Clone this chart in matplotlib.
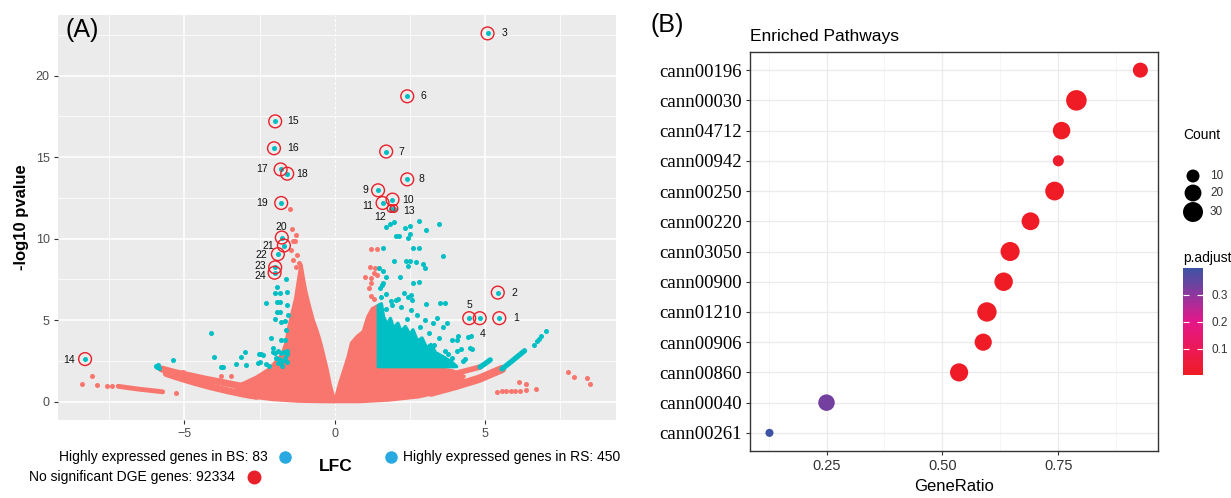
import numpy as np
import matplotlib.pyplot as plt
from matplotlib.colors import LinearSegmentedColormap, Normalize
from matplotlib.cm import ScalarMappable
from matplotlib.ticker import MultipleLocator

plt.rcParams["font.family"] = ["Liberation Sans", "DejaVu Sans"]

W, H = 1231, 498

# ---------------- panel A: volcano plot ----------------
gene_id = list(range(1, 25))
gene_lfc = [5.47, 5.42, 5.08, 4.82, 4.47, 2.41, 1.71, 2.41, 1.44, 1.92, 1.59, 1.87,
            1.97, -8.30, -1.98, -2.02, -1.80, -1.58, -1.78, -1.76, -1.69, -1.89, -1.98, -2.00]
gene_logp = [5.12, 6.69, 22.6, 5.12, 5.12, 18.74, 15.35, 13.64, 12.97, 12.4, 12.19, 11.85,
             11.85, 2.61, 17.2, 15.55, 14.25, 13.99, 12.19, 10.07, 9.58, 9.05, 8.24, 7.91]

# highly expressed in BS (left, cyan)
bs_points = [(-4.11, 4.24), (-5.37, 2.53), (-4.0, 2.72), (-3.78, 2.15), (-3.72, 2.12),
             (-5.94, 2.2), (-5.9, 2.12), (-5.84, 2.08), (-5.88, 2.25), (-3.28, 2.33),
             (-3.11, 2.73), (-3.0, 3.06), (-2.94, 2.26), (-2.52, 2.95), (-2.44, 2.9),
             (-2.37, 2.86), (-2.55, 2.34), (-2.49, 2.4), (-2.3, 6.03), (-2.28, 2.3),
             (-2.17, 2.2), (-2.12, 3.89), (-2.06, 3.27), (-2.06, 3.07), (-1.92, 7.05),
             (-1.97, 6.65), (-1.83, 6.65), (-1.92, 6.14), (-1.83, 6.14), (-1.92, 5.52),
             (-1.83, 5.52), (-1.97, 5.06), (-1.8, 4.9), (-1.67, 4.92), (-1.61, 7.5),
             (-1.59, 6.7), (-1.59, 5.9), (-1.56, 5.3), (-1.8, 3.8), (-1.67, 3.75),
             (-1.61, 4.4), (-2.0, 3.0), (-1.9, 3.1), (-1.8, 3.0), (-1.7, 3.05),
             (-1.6, 3.1), (-1.95, 2.7), (-1.85, 2.6), (-1.75, 2.5), (-1.65, 2.65),
             (-1.9, 2.35), (-1.75, 2.2), (-1.6, 2.4), (-1.6, 2.9)]

# highly expressed in RS (right, cyan)
rs_points = [(1.72, 10.72), (1.83, 10.9), (1.97, 11.03), (2.33, 10.67), (2.5, 10.77),
             (2.81, 11.08), (3.03, 10.52), (3.48, 10.92), (2.05, 10.15), (2.15, 10.15),
             (2.44, 10.07), (2.5, 10.3), (1.59, 9.4), (2.61, 9.43), (2.8, 9.43),
             (3.59, 8.93), (1.97, 8.62), (2.37, 8.6), (2.5, 8.6), (2.7, 8.55),
             (2.92, 8.45), (2.45, 8.3), (3.0, 8.2), (1.48, 8.2), (1.62, 8.0),
             (1.7, 7.65), (1.62, 7.3), (1.5, 7.0), (1.58, 7.15), (2.17, 7.67),
             (2.59, 7.31), (2.8, 7.35), (1.55, 6.4), (1.72, 6.6), (1.88, 6.2),
             (2.03, 6.25), (2.1, 6.3), (2.3, 6.65), (2.42, 6.45), (2.52, 6.55),
             (2.58, 6.25), (3.03, 6.0), (3.67, 6.04), (3.5, 6.03), (3.41, 5.12),
             (3.72, 4.81), (3.0, 5.0), (3.25, 4.85), (3.6, 4.55), (2.75, 5.3),
             (2.55, 5.6), (2.2, 5.8), (1.9, 5.9), (3.89, 3.8), (4.06, 3.8),
             (4.11, 4.0), (4.44, 3.97), (4.52, 4.0), (4.06, 3.1), (4.2, 3.25),
             (4.5, 3.3), (4.56, 3.2), (3.67, 3.1), (3.78, 2.9), (4.28, 2.5),
             (4.33, 2.6), (3.9, 2.7), (6.64, 3.49), (6.72, 3.7), (6.8, 3.85),
             (6.86, 4.05), (7.02, 4.34), (2.85, 4.6), (3.15, 4.2), (2.4, 5.1),
             (1.7, 5.7), (3.45, 3.9), (3.3, 3.45)]

# scattered non-significant genes
ns_points = [(-1.48, 11.85), (-1.42, 10.6), (-1.28, 10.2), (-1.33, 9.87), (-1.39, 9.87),
             (-1.45, 9.3), (-1.39, 8.68), (-1.28, 8.28), (-1.2, 8.5), (-1.25, 9.0),
             (-8.39, 1.1), (-8.08, 1.6), (-7.89, 0.99), (-7.56, 0.94), (-7.39, 0.94),
             (-5.28, 0.55), (-5.06, 1.83), (-4.66, 1.6), (-3.78, 1.6), (-3.46, 1.59),
             (1.39, 9.34), (1.22, 9.34), (1.17, 8.27), (1.0, 7.65), (1.22, 7.6),
             (1.22, 7.3), (1.15, 6.95), (1.35, 8.2), (1.3, 7.9), (1.4, 7.8),
             (1.2, 6.5), (1.3, 6.3), (5.39, 0.59), (5.55, 0.62), (5.7, 0.64),
             (5.85, 0.64), (6.0, 0.66), (6.15, 0.66), (6.37, 0.7), (6.7, 0.8),
             (6.14, 1.18), (6.36, 1.08), (7.76, 1.79), (7.94, 1.5), (8.37, 1.42),
             (8.5, 1.11)]

# outlines of the dense clouds (tens of thousands of genes)
ns_left_lfc = [0.0, -0.15, -0.26, -0.39, -0.5, -0.62, -0.72, -0.85, -0.97, -1.05, -1.12,
               -1.2, -1.3, -1.42, -1.52, -1.62, -1.75, -2.17, -2.6, -3.17, -3.3, -2.94,
               -2.06, -1.2, -0.4]
ns_left_logp = [0.0, 1.0, 2.0, 3.0, 3.8, 4.5, 5.0, 5.9, 6.8, 7.6, 8.4, 7.5, 6.3, 5.4, 4.6,
                3.6, 2.9, 2.0, 1.5, 1.0, 0.7, 0.33, 0.13, 0.03, 0.0]
ns_right_lfc = [0.0, 0.17, 0.32, 0.45, 0.56, 0.75, 0.95, 1.1, 1.25, 1.45, 1.45, 2.5, 3.3,
                3.9, 4.3, 4.1, 3.5, 2.8, 1.8, 0.8]
ns_right_logp = [0.0, 1.14, 2.0, 2.77, 3.6, 4.0, 4.3, 5.2, 5.7, 5.9, 2.15, 2.12, 2.05, 1.9,
                 1.55, 1.1, 0.6, 0.3, 0.1, 0.0]
rs_block_lfc = [1.45, 1.45, 1.55, 1.62, 1.75, 1.85, 1.95, 2.1, 2.2, 2.35, 2.5, 2.6, 2.75,
                2.9, 3.05, 3.2, 3.35, 3.6, 3.9, 4.05]
rs_block_logp = [2.15, 5.9, 6.0, 5.2, 4.7, 5.1, 4.5, 4.8, 4.3, 4.6, 4.1, 4.4, 3.7, 3.9,
                 3.3, 3.5, 3.0, 2.75, 2.4, 2.15]

# curved tails of points
tail_left_a = ([-5.75, -5.3, -4.8, -4.3, -3.8, -3.2, -2.6], [2.0, 1.78, 1.58, 1.38, 1.2, 0.98, 0.8])
tail_left_b = ([-5.6, -5.1, -4.6, -4.1, -3.6, -3.1, -2.6], [1.72, 1.42, 1.15, 0.9, 0.68, 0.48, 0.32])
tail_left_c = ([-7.2, -6.9, -6.54, -6.1, -5.72], [0.94, 0.86, 0.77, 0.68, 0.6])
tail_right_a = ([3.2, 4.0, 4.83], [1.35, 1.72, 2.12])
tail_right_a_rs = ([4.83, 5.0, 5.17], [2.12, 2.33, 2.56])
tail_right_b = ([3.2, 4.0, 4.8, 5.56], [0.55, 0.95, 1.4, 2.0])
tail_right_b_rs = ([5.56, 5.9, 6.31], [2.0, 2.5, 3.12])

# ---------------- panel B: enrichment dot plot ----------------
pathways = ["cann00196", "cann00030", "cann04712", "cann00942", "cann00250", "cann00220",
            "cann03050", "cann00900", "cann01210", "cann00906", "cann00860", "cann00040",
            "cann00261"]
gene_ratio = [0.927, 0.789, 0.757, 0.750, 0.742, 0.690, 0.646, 0.632, 0.596, 0.588, 0.536,
              0.250, 0.127]
counts = [15, 32, 22, 6, 26, 23, 27, 25, 28, 21, 24, 19, 1]
p_adjust = [0.01, 0.005, 0.008, 0.02, 0.006, 0.01, 0.006, 0.008, 0.006, 0.01, 0.012, 0.33, 0.40]

SALMON = "#F8766D"
CYAN = "#00BFC4"
RED = "#E8202A"

fig = plt.figure(figsize=(W / 100, H / 100), dpi=100)


def box(l, t, r, b):
    return [l / W, 1 - b / H, (r - l) / W, (b - t) / H]


ax = fig.add_axes(box(58, 15, 616, 420))
ax.set_facecolor("#EBEBEB")
ax.set_xlim(-9.2, 9.35)
ax.set_ylim(-1.13, 23.73)
for s in ax.spines.values():
    s.set_visible(False)
ax.set_xticks([-5, 0, 5])
ax.set_yticks([0, 5, 10, 15, 20])
ax.xaxis.set_minor_locator(MultipleLocator(2.5))
ax.yaxis.set_minor_locator(MultipleLocator(2.5))
ax.grid(which="major", color="white", lw=1.1)
ax.grid(which="minor", color="white", lw=0.55)
ax.xaxis.get_major_ticks()[1].gridline.set_linestyle((0, (3, 2)))
ax.xaxis.get_major_ticks()[1].gridline.set_linewidth(0.7)
ax.set_axisbelow(True)
ax.tick_params(which="major", length=3, color="#333333", labelcolor="#4D4D4D",
               labelsize=9, pad=3)
ax.tick_params(which="minor", length=0)

ax.fill(ns_left_lfc, ns_left_logp, color=SALMON, ec=SALMON, lw=2.5, joinstyle="round", zorder=2)
ax.fill(ns_right_lfc, ns_right_logp, color=SALMON, ec=SALMON, lw=2.5, joinstyle="round", zorder=2)
for tail, lw in [(tail_left_a, 5), (tail_left_b, 5), (tail_left_c, 3.5),
                 (tail_right_a, 4), (tail_right_b, 6)]:
    ax.plot(*tail, color=SALMON, lw=lw, solid_capstyle="round", zorder=2)
for tail in [tail_right_a_rs, tail_right_b_rs]:
    ax.plot(*tail, color=CYAN, lw=3.8, solid_capstyle="round", zorder=3)
ax.fill(rs_block_lfc, rs_block_logp, color=CYAN, ec=CYAN, lw=2.5, joinstyle="round", zorder=3)

ns = np.array(ns_points).T
ax.scatter(ns[0], ns[1], s=13, color=SALMON, lw=0, zorder=3)
for pts in (bs_points, rs_points):
    arr = np.array(pts).T
    ax.scatter(arr[0], arr[1], s=13, color=CYAN, lw=0, zorder=4)

ax.scatter(gene_lfc, gene_logp, s=13, color=CYAN, lw=0, zorder=5)
ring = [85 if g not in (12, 13) else 30 for g in gene_id]
ax.scatter(gene_lfc, gene_logp, s=ring, facecolors="none", edgecolors=RED, lw=1.0, zorder=6)

# label offsets in pixels (right, down)
label_off = {1: (17, 0), 2: (17, 0), 3: (17, 0), 4: (3, 16), 5: (0, -13), 6: (16, 0),
             7: (15, 0), 8: (14, 0), 9: (-13, 0), 10: (16, 0), 11: (-15, 3), 12: (-11, 8),
             13: (15, 2), 14: (-16, 1), 15: (18, 0), 16: (19, 0), 17: (-19, 0), 18: (15, 0),
             19: (-19, 0), 20: (-1, -11), 21: (-16, 0), 22: (-17, 1), 23: (-15, -1), 24: (-14, 3)}
for g, x, y in zip(gene_id, gene_lfc, gene_logp):
    dx, dy = label_off[g]
    ax.annotate(str(g), (x, y), xytext=(dx * 0.72, -dy * 0.72), textcoords="offset points",
                ha="center", va="center", fontsize=7.5, color="#111111")

ax.set_ylabel("-log10 pvalue", fontsize=12, fontweight="bold")
ax.yaxis.set_label_coords(-0.052, 0.5)

# legend of panel A
ov = fig.add_axes([0, 0, 1, 1], zorder=10)
ov.set_xlim(0, W)
ov.set_ylim(H, 0)
ov.axis("off")
ov.text(268, 457, "Highly expressed genes in BS: 83", ha="right", va="center", fontsize=10)
ov.text(235, 477, "No significant DGE genes: 92334", ha="right", va="center", fontsize=10)
ov.text(403, 457, "Highly expressed genes in RS: 450", ha="left", va="center", fontsize=10)
ov.text(336, 466, "LFC", ha="center", va="center", fontsize=12.5, fontweight="bold")
ov.plot([285, 391], [457, 457], ls="none", marker="o", ms=8, color="#29A9E1")
ov.plot([254], [477], ls="none", marker="o", ms=9, color=RED)
ov.text(82, 30, "(A)", ha="center", va="center", fontsize=18)
ov.text(667, 25, "(B)", ha="center", va="center", fontsize=18)

# ---------------- panel B ----------------
bx = fig.add_axes(box(750, 52, 1158, 451))
cmap = LinearSegmentedColormap.from_list(
    "padj", [(0.0, "#EF1C24"), (0.2, "#EC1A4E"), (0.5, "#E4178A"), (0.7, "#A2309A"),
             (0.85, "#6A44A0"), (1.0, "#3E53A4")])
norm = Normalize(0.003, 0.40)


def count_size(c):
    # dot area grows linearly with count (diameter in px -> points^2)
    return (54 + 11.5 * np.asarray(c)) * 0.72 ** 2


ypos = np.arange(len(pathways))[::-1]
bx.scatter(gene_ratio, ypos, s=count_size(counts), c=p_adjust, cmap=cmap, norm=norm,
           lw=0, zorder=3)
bx.set_ylim(-0.6, len(pathways) - 0.4)
bx.set_xlim(0.085, 0.965)
bx.set_yticks(ypos)
bx.set_yticklabels(pathways, family="Liberation Serif", fontsize=13.5)
bx.set_xticks([0.25, 0.5, 0.75])
bx.set_xticklabels(["0.25", "0.50", "0.75"])
bx.xaxis.set_minor_locator(MultipleLocator(0.125))
bx.grid(which="major", color="#EBEBEB", lw=0.9)
bx.grid(which="minor", axis="x", color="#F2F2F2", lw=0.5)
bx.set_axisbelow(True)
for s in bx.spines.values():
    s.set_color("#333333")
    s.set_linewidth(1.0)
bx.tick_params(which="major", length=3, color="#333333", labelsize=10.5, pad=3)
bx.tick_params(axis="y", labelsize=13.5)
bx.tick_params(axis="x", labelcolor="#333333")
bx.tick_params(which="minor", length=0)
bx.set_xlabel("GeneRatio", fontsize=12, labelpad=4)
bx.set_title("Enriched Pathways", loc="left", fontsize=12.5, pad=8)

# Count legend
ov.text(1183, 135, "Count", ha="left", va="center", fontsize=10)
leg_counts = [10, 20, 30]
leg_y = [176, 193, 212]
ov.scatter([1193] * 3, leg_y, s=count_size(leg_counts), color="black", lw=0)
for c, y in zip(leg_counts, leg_y):
    ov.text(1210, y, str(c), ha="left", va="center", fontsize=8.5, color="#333333")

# p.adjust colourbar
ov.text(1183, 258, "p.adjust", ha="left", va="center", fontsize=10)
cax = fig.add_axes(box(1183, 268, 1203, 375))
cb = fig.colorbar(ScalarMappable(norm=norm, cmap=cmap), cax=cax)
cb.outline.set_visible(False)
cb.set_ticks([0.1, 0.2, 0.3])
cb.set_ticklabels(["0.1", "0.2", "0.3"])
cax.tick_params(axis="y", direction="in", length=4, color="white", width=0.8,
                left=True, right=True, labelsize=8.5, labelcolor="#333333", pad=6)

fig.savefig("out.png", dpi=100)
